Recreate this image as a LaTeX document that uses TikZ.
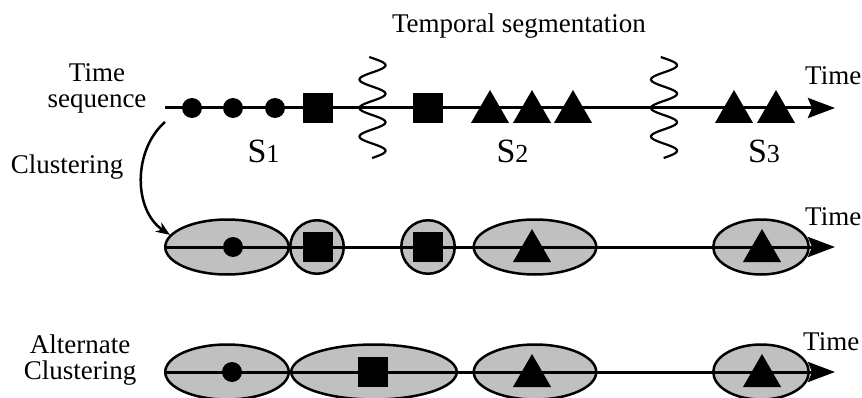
\documentclass[tikz,border=0pt]{standalone}
\usepackage{fontspec}
\setmainfont{Liberation Serif}
\usetikzlibrary{arrows.meta,shapes.geometric}
\definecolor{clgray}{RGB}{192,192,192}
\begin{document}
\begin{tikzpicture}[x=1pt,y=1pt,
  lbl/.style={inner sep=0pt, font=\fontsize{27pt}{26pt}\selectfont},
  seglbl/.style={inner sep=0pt, anchor=base},
  axisline/.style={line width=3pt, -{Stealth[length=27pt,width=20pt,inset=4pt]}},
  dot/.style={circle, fill=black, minimum size=20pt, inner sep=0pt},
  sq/.style={rectangle, fill=black, minimum size=30pt, inner sep=0pt},
  tri/.style={regular polygon, regular polygon sides=3, fill=black,
              minimum size=44pt, inner sep=0pt, yshift=-4pt},
  clus/.style={ellipse, draw=black, line width=2.5pt, fill=clgray, inner sep=0pt},
  wave/.style={line width=2.2pt},
]
\clip (0,0) rectangle (862,397);

% ---------- labels ----------
\node[lbl, anchor=base] (title) at (519,364) {Temporal segmentation};
\node[lbl, anchor=base] (seqA) at (97,315) {Time};
\node[lbl, anchor=base] (seqB) at (97,289) {sequence};
\node[lbl, anchor=base] (clu) at (67,224) {Clustering};
\node[lbl, anchor=base] (altA) at (80,44) {Alternate};
\node[lbl, anchor=base] (altB) at (80,18) {Clustering};
\node[lbl, anchor=base west] (time1) at (805,312) {Time};
\node[lbl, anchor=base west] (time2) at (805,172) {Time};
\node[lbl, anchor=base west] (time3) at (803,47) {Time};

% ---------- row 1: raw time sequence ----------
\coordinate (a1s) at (165,289);
\coordinate (a1e) at (835,289);
\draw[axisline] (a1s) -- (a1e);

% segment boundaries (wavy cuts), period 28.5
\foreach \xc in {372.5,664}{
  \draw[wave] plot[domain=-50:51, samples=120, smooth]
    ({\xc-13*cos(12.6316*\x)}, {289+\x});
}

\node[dot] (p1) at (192,289) {};
\node[dot] (p2) at (233,289) {};
\node[dot] (p3) at (275,289) {};
\node[sq]  (p4) at (318,289) {};
\node[sq]  (p5) at (428,289) {};
\node[tri] (p6) at (490,289) {};
\node[tri] (p7) at (532,289) {};
\node[tri] (p8) at (573,289) {};
\node[tri] (p9) at (734,289) {};
\node[tri] (p10) at (776,289) {};

\node[seglbl] (s1) at (263.5,235) {\fontsize{34pt}{34pt}\selectfont S\fontsize{26pt}{26pt}\selectfont 1};
\node[seglbl] (s2) at (512.5,235) {\fontsize{34pt}{34pt}\selectfont S\fontsize{26pt}{26pt}\selectfont 2};
\node[seglbl] (s3) at (764,235) {\fontsize{34pt}{34pt}\selectfont S\fontsize{26pt}{26pt}\selectfont 3};

% ---------- row 2: clustering ----------
\node[clus, minimum width=123.5pt, minimum height=55pt] (e21) at (227,150) {};
\node[clus, minimum width=53.5pt, minimum height=53.5pt] (e22) at (317,150) {};
\node[clus, minimum width=53.5pt, minimum height=53.5pt] (e23) at (428,150) {};
\node[clus, minimum width=122.5pt, minimum height=55pt] (e24) at (535,150) {};
\node[clus, minimum width=95.5pt, minimum height=55pt] (e25) at (761,150) {};

\coordinate (a2s) at (165,150);
\coordinate (a2e) at (835,150);
\draw[axisline] (a2s) -- (a2e);

\node[dot] (q1) at (233,150) {};
\node[sq]  (q2) at (318,150) {};
\node[sq]  (q3) at (428,150) {};
\node[tri] (q4) at (532,150) {};
\node[tri] (q5) at (762,150) {};

% clustering arrow
\coordinate (cs) at (165,275);
\draw[line width=2.5pt, -{Stealth[length=14pt,width=11pt]}]
  (cs) .. controls (133,247) and (133,187) .. (e21.168);

% ---------- row 3: alternate clustering ----------
\node[clus, minimum width=123.5pt, minimum height=55pt] (e31) at (227,25) {};
\node[clus, minimum width=165.5pt, minimum height=55pt] (e32) at (374,25) {};
\node[clus, minimum width=122.5pt, minimum height=55pt] (e33) at (535,25) {};
\node[clus, minimum width=95.5pt, minimum height=55pt] (e34) at (761,25) {};

\coordinate (a3s) at (165,25);
\coordinate (a3e) at (835,25);
\draw[axisline] (a3s) -- (a3e);

\node[dot] (r1) at (232,25) {};
\node[sq]  (r2) at (373,25) {};
\node[tri] (r3) at (532,25) {};
\node[tri] (r4) at (762,25) {};
\end{tikzpicture}
\end{document}
